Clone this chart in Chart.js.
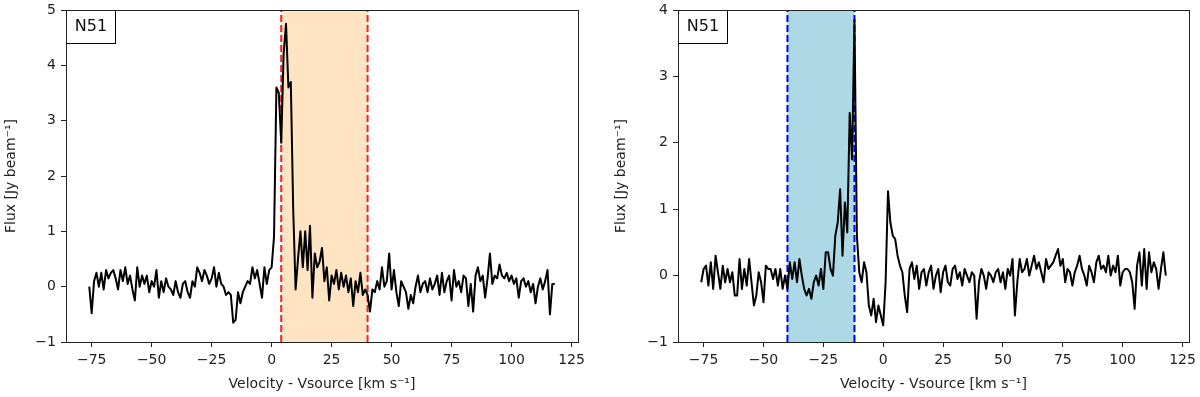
<!DOCTYPE html>
<html>
<head>
<meta charset="utf-8">
<script src="https://cdn.jsdelivr.net/npm/chart.js@4.4.0/dist/chart.umd.min.js"></script>
<style>
html, body { margin: 0; padding: 0; background: #fff; }
#wrap { position: relative; width: 1200px; height: 397px; }
canvas { position: absolute; top: 0; }
#leftChart { left: 0; }
#rightChart { left: 600px; }
</style>
</head>
<body>
<div id="wrap">
<canvas id="leftChart" width="600" height="397"></canvas>
<canvas id="rightChart" width="600" height="397"></canvas>
</div>
<script>
// channel grid (km/s), one value per channel
var velStart = -76;
var velStep = 1;

// flux per channel, left panel (rows of 10 channels, starting at -76 km/s)
var fluxLeft = [
    0.0, -0.48, 0.1, 0.25, 0.0, 0.25, -0.05, 0.3, 0.15, 0.25,
    0.3, 0.15, -0.05, 0.3, 0.1, 0.35, 0.05, 0.2, -0.05, -0.25,
    0.35, 0.0, 0.2, 0.05, 0.2, -0.1, 0.1, 0.0, 0.3, -0.2,
    0.1, -0.1, 0.15, 0.0, -0.05, -0.15, 0.1, -0.1, -0.2, 0.05,
    0.1, -0.1, -0.2, 0.1, 0.0, 0.35, 0.25, 0.1, 0.3, 0.2,
    0.05, 0.15, 0.35, 0.0, 0.25, 0.05, 0.0, -0.15, -0.1, -0.15,
    -0.65, -0.6, -0.1, -0.3, -0.1, 0.0, 0.1, 0.05, 0.35, 0.15,
    0.3, 0.05, -0.2, 0.35, 0.05, 0.3, 0.35, 0.9, 3.6, 3.5,
    2.6, 4.2, 4.75, 3.6, 3.7, 1.4, -0.05, 0.5, 1.0, 0.35,
    1.0, 0.3, 1.1, -0.2, 0.6, 0.35, 0.45, 0.7, 0.1, 0.35,
    -0.25, 0.2, 0.05, 0.3, -0.05, 0.25, 0.0, 0.2, -0.1, 0.15,
    -0.35, 0.1, -0.1, 0.25, -0.15, -0.05, -0.15, -0.45, -0.05, -0.1,
    0.1, -0.05, 0.35, 0.0, 0.1, 0.6, -0.05, 0.3, -0.1, -0.35,
    0.1, 0.0, -0.1, -0.4, -0.15, -0.3, 0.0, 0.2, -0.1, 0.05,
    0.1, -0.1, 0.15, -0.05, 0.05, 0.2, -0.15, 0.25, -0.1, 0.1,
    0.2, -0.25, 0.3, 0.0, 0.1, -0.1, 0.2, 0.15, -0.35, 0.05,
    -0.45, 0.2, 0.35, 0.1, 0.2, -0.2, 0.15, 0.6, 0.05, 0.2,
    0.15, 0.4, 0.2, 0.15, 0.25, 0.1, 0.2, 0.05, 0.15, -0.2,
    0.1, 0.15, 0.0, 0.1, -0.1, 0.05, -0.3, 0.0, 0.15, -0.05,
    0.1, 0.3, -0.5, 0.05, 0.05
];

// flux per channel, right panel
var fluxRight = [
    -0.1, 0.1, 0.15, -0.15, 0.2, -0.2, 0.3, 0.05, -0.2, 0.15,
    -0.1, 0.1, -0.1, 0.05, -0.3, -0.3, 0.25, -0.2, 0.1, -0.15,
    0.25, -0.1, -0.45, -0.3, 0.05, -0.1, -0.4, 0.15, 0.1, 0.1,
    -0.05, 0.1, -0.15, 0.1, -0.2, 0.0, -0.2, 0.2, -0.05, 0.2,
    -0.1, 0.25, 0.0, -0.2, -0.3, -0.2, -0.35, -0.1, 0.0, -0.15,
    0.1, -0.2, 0.35, 0.35, 0.1, 0.0, 0.6, 0.8, 1.3, 0.3,
    1.1, 0.65, 2.45, 1.75, 3.85, 0.6, 0.05, -0.1, 0.2, 0.05,
    -0.45, -0.6, -0.35, -0.7, -0.45, -0.6, -0.75, -0.1, 1.27, 0.8,
    0.6, 0.55, 0.3, 0.15, 0.05, -0.3, -0.55, 0.1, 0.2, -0.05,
    0.15, -0.2, 0.05, 0.1, -0.15, 0.05, 0.15, -0.2, 0.0, 0.1,
    -0.25, 0.05, 0.15, -0.1, -0.15, 0.1, 0.15, -0.05, 0.05, -0.15,
    0.1, 0.0, -0.1, 0.05, 0.0, -0.65, -0.1, 0.1, 0.0, -0.2,
    0.05, 0.0, -0.1, 0.05, 0.1, -0.1, 0.05, -0.2, 0.1, 0.0,
    0.25, -0.6, -0.1, 0.25, 0.05, 0.1, 0.25, 0.0, 0.15, 0.3,
    0.1, 0.2, 0.05, -0.1, 0.25, 0.1, 0.15, 0.2, 0.3, 0.4,
    0.15, 0.25, -0.1, 0.1, 0.05, -0.15, 0.05, 0.15, 0.3, 0.1,
    0.0, -0.15, 0.15, 0.05, -0.1, 0.2, 0.3, 0.1, 0.15, 0.05,
    0.3, 0.0, 0.15, 0.05, 0.3, -0.15, 0.05, 0.1, 0.1, 0.05,
    -0.1, -0.5, 0.15, 0.35, -0.15, 0.4, -0.2, 0.35, 0.05, 0.2,
    0.1, -0.2, 0.1, 0.35, 0.0
];

// shaded velocity windows
var spanLeft = [4, 40];
var spanRight = [-40, -12];

// axes
var xLimits = [-85.7, 127.7];
var xTicks = [-75, -50, -25, 0, 25, 50, 75, 100, 125];
var yLimitsLeft = [-1, 5];
var yTicksLeft = [-1, 0, 1, 2, 3, 4, 5];
var yLimitsRight = [-1, 4];
var yTicksRight = [-1, 0, 1, 2, 3, 4];
var sourceName = 'N51';

var font = { family: 'DejaVu Sans', size: 14 };
var ink = '#222';

function fmt(v) {
    return v < 0 ? '\u2212' + Math.abs(v) : String(v);
}

function points(flux) {
    var pts = [];
    for (var i = 0; i < flux.length; i++) {
        pts.push({ x: velStart + i * velStep, y: flux[i] });
    }
    return pts;
}

var panelPlugin = {
    id: 'panel',
    beforeDatasetsDraw: function (chart, args, opts) {
        var ctx = chart.ctx;
        var area = chart.chartArea;
        var xs = chart.scales.x;
        var x0 = xs.getPixelForValue(opts.range[0]);
        var x1 = xs.getPixelForValue(opts.range[1]);
        ctx.save();
        ctx.fillStyle = opts.fill;
        ctx.fillRect(x0, area.top, x1 - x0, area.bottom - area.top);
        ctx.strokeStyle = opts.line;
        ctx.lineWidth = 2;
        ctx.setLineDash([7, 3]);
        [x0, x1].forEach(function (x) {
            ctx.beginPath();
            ctx.moveTo(x, area.bottom);
            ctx.lineTo(x, area.top);
            ctx.stroke();
        });
        ctx.restore();
    },
    afterDraw: function (chart, args, opts) {
        var ctx = chart.ctx;
        var a = chart.chartArea;
        ctx.save();
        // label box
        ctx.fillStyle = '#fff';
        ctx.fillRect(a.left + 0.5, a.top + 0.5, 49, 33);
        ctx.strokeStyle = '#000';
        ctx.lineWidth = 1;
        ctx.strokeRect(a.left + 0.5, a.top + 0.5, 49, 33);
        ctx.fillStyle = '#111';
        ctx.font = '16px "DejaVu Sans"';
        ctx.textAlign = 'center';
        ctx.textBaseline = 'middle';
        ctx.fillText(opts.label, a.left + 25, a.top + 17);
        // frame
        ctx.strokeStyle = ink;
        ctx.strokeRect(Math.round(a.left) + 0.5, Math.round(a.top) + 0.5,
            Math.round(a.right - a.left), Math.round(a.bottom - a.top));
        ctx.restore();
    }
};

function makeChart(id, flux, span, fill, line, yLim, yTicks, pad) {
    return new Chart(document.getElementById(id), {
        type: 'line',
        data: {
            datasets: [{
                data: points(flux),
                borderColor: '#000',
                borderWidth: 2,
                borderJoinStyle: 'round',
                pointRadius: 0,
                fill: false,
                tension: 0
            }]
        },
        options: {
            responsive: false,
            animation: false,
            devicePixelRatio: 1,
            layout: { padding: pad },
            plugins: {
                legend: { display: false },
                tooltip: { enabled: false },
                panel: { range: span, fill: fill, line: line, label: sourceName }
            },
            scales: {
                x: {
                    type: 'linear',
                    min: xLimits[0],
                    max: xLimits[1],
                    afterBuildTicks: function (s) {
                        s.ticks = xTicks.map(function (v) { return { value: v }; });
                    },
                    afterFit: function (s) {
                        s.height = 55;
                        s.paddingLeft = 0;
                        s.paddingRight = 0;
                    },
                    ticks: { callback: fmt, font: font, color: ink, padding: 5, maxRotation: 0, autoSkip: false },
                    grid: { drawOnChartArea: false, drawTicks: true, tickLength: 5, color: ink },
                    border: { display: false },
                    title: {
                        display: true,
                        text: 'Velocity - Vsource [km s\u207B\u00B9]',
                        font: font,
                        color: ink,
                        padding: { top: 0, bottom: 4 }
                    }
                },
                y: {
                    min: yLim[0],
                    max: yLim[1],
                    afterBuildTicks: function (s) {
                        s.ticks = yTicks.map(function (v) { return { value: v }; });
                    },
                    afterFit: function (s) {
                        s.width = 66;
                        s.paddingTop = 0;
                        s.paddingBottom = 0;
                    },
                    ticks: { callback: fmt, font: font, color: ink, padding: 5 },
                    grid: { drawOnChartArea: false, drawTicks: true, tickLength: 5, color: ink },
                    border: { display: false },
                    title: {
                        display: true,
                        text: 'Flux [Jy beam\u207B\u00B9]',
                        font: font,
                        color: ink,
                        padding: { top: pad.left === 0 ? 3 : 1, bottom: 0 }
                    }
                }
            }
        },
        plugins: [panelPlugin]
    });
}

var leftChart = makeChart('leftChart', fluxLeft, spanLeft, '#FFE4C4', '#ff1f1f',
    yLimitsLeft, yTicksLeft, { left: 0, right: 22, top: 10, bottom: 0 });
var rightChart = makeChart('rightChart', fluxRight, spanRight, '#ADD8E6', '#0000ff',
    yLimitsRight, yTicksRight, { left: 12, right: 11, top: 10, bottom: 0 });
</script>
</body>
</html>
